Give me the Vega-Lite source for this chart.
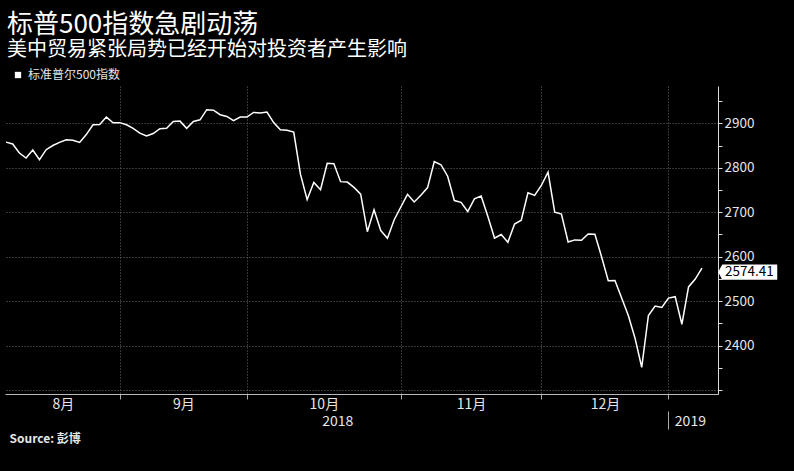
{
  "$schema": "https://vega.github.io/schema/vega-lite/v6.json",
  "width": 713,
  "height": 308,
  "autosize": {"type": "none"},
  "padding": {"left": 5, "top": 86, "right": 76, "bottom": 77},
  "background": "#000000",
  "config": {
    "view": {"stroke": null},
    "font": "Noto Sans CJK SC",
    "axis": {"labelFont": "Noto Sans CJK SC", "titleFont": "Noto Sans CJK SC"},
    "legend": {"labelFont": "Noto Sans CJK SC"}
  },
  "title": {
    "text": "标普500指数急剧动荡",
    "subtitle": "美中贸易紧张局势已经开始对投资者产生影响",
    "anchor": "start",
    "frame": "group",
    "offset": 9,
    "dx": 2,
    "color": "#ffffff",
    "subtitleColor": "#ffffff",
    "fontSize": 26,
    "subtitleFontSize": 20,
    "fontWeight": "normal",
    "subtitlePadding": 2,
    "font": "Noto Sans CJK SC",
    "subtitleFont": "Noto Sans CJK SC"
  },
  "data": {
    "values": [
      {"i": 0, "date": "2018-08-08", "close": 2857.70},
      {"i": 1, "date": "2018-08-09", "close": 2853.58},
      {"i": 2, "date": "2018-08-10", "close": 2833.28},
      {"i": 3, "date": "2018-08-13", "close": 2821.93},
      {"i": 4, "date": "2018-08-14", "close": 2839.96},
      {"i": 5, "date": "2018-08-15", "close": 2818.37},
      {"i": 6, "date": "2018-08-16", "close": 2840.69},
      {"i": 7, "date": "2018-08-17", "close": 2850.13},
      {"i": 8, "date": "2018-08-20", "close": 2857.05},
      {"i": 9, "date": "2018-08-21", "close": 2862.96},
      {"i": 10, "date": "2018-08-22", "close": 2861.82},
      {"i": 11, "date": "2018-08-23", "close": 2856.98},
      {"i": 12, "date": "2018-08-24", "close": 2874.69},
      {"i": 13, "date": "2018-08-27", "close": 2896.74},
      {"i": 14, "date": "2018-08-28", "close": 2897.52},
      {"i": 15, "date": "2018-08-29", "close": 2914.04},
      {"i": 16, "date": "2018-08-30", "close": 2901.13},
      {"i": 17, "date": "2018-08-31", "close": 2901.52},
      {"i": 18, "date": "2018-09-04", "close": 2896.72},
      {"i": 19, "date": "2018-09-05", "close": 2888.60},
      {"i": 20, "date": "2018-09-06", "close": 2878.05},
      {"i": 21, "date": "2018-09-07", "close": 2871.68},
      {"i": 22, "date": "2018-09-10", "close": 2877.13},
      {"i": 23, "date": "2018-09-11", "close": 2887.89},
      {"i": 24, "date": "2018-09-12", "close": 2888.92},
      {"i": 25, "date": "2018-09-13", "close": 2904.18},
      {"i": 26, "date": "2018-09-14", "close": 2904.98},
      {"i": 27, "date": "2018-09-17", "close": 2888.80},
      {"i": 28, "date": "2018-09-18", "close": 2904.31},
      {"i": 29, "date": "2018-09-19", "close": 2907.95},
      {"i": 30, "date": "2018-09-20", "close": 2930.75},
      {"i": 31, "date": "2018-09-21", "close": 2929.67},
      {"i": 32, "date": "2018-09-24", "close": 2919.37},
      {"i": 33, "date": "2018-09-25", "close": 2915.56},
      {"i": 34, "date": "2018-09-26", "close": 2905.97},
      {"i": 35, "date": "2018-09-27", "close": 2914.00},
      {"i": 36, "date": "2018-09-28", "close": 2913.98},
      {"i": 37, "date": "2018-10-01", "close": 2924.59},
      {"i": 38, "date": "2018-10-02", "close": 2923.43},
      {"i": 39, "date": "2018-10-03", "close": 2925.51},
      {"i": 40, "date": "2018-10-04", "close": 2901.61},
      {"i": 41, "date": "2018-10-05", "close": 2885.57},
      {"i": 42, "date": "2018-10-08", "close": 2884.43},
      {"i": 43, "date": "2018-10-09", "close": 2880.34},
      {"i": 44, "date": "2018-10-10", "close": 2785.68},
      {"i": 45, "date": "2018-10-11", "close": 2728.37},
      {"i": 46, "date": "2018-10-12", "close": 2767.13},
      {"i": 47, "date": "2018-10-15", "close": 2750.79},
      {"i": 48, "date": "2018-10-16", "close": 2809.92},
      {"i": 49, "date": "2018-10-17", "close": 2809.21},
      {"i": 50, "date": "2018-10-18", "close": 2768.78},
      {"i": 51, "date": "2018-10-19", "close": 2767.78},
      {"i": 52, "date": "2018-10-22", "close": 2755.88},
      {"i": 53, "date": "2018-10-23", "close": 2740.69},
      {"i": 54, "date": "2018-10-24", "close": 2656.10},
      {"i": 55, "date": "2018-10-25", "close": 2705.57},
      {"i": 56, "date": "2018-10-26", "close": 2658.69},
      {"i": 57, "date": "2018-10-29", "close": 2641.25},
      {"i": 58, "date": "2018-10-30", "close": 2682.63},
      {"i": 59, "date": "2018-10-31", "close": 2711.74},
      {"i": 60, "date": "2018-11-01", "close": 2740.37},
      {"i": 61, "date": "2018-11-02", "close": 2723.06},
      {"i": 62, "date": "2018-11-05", "close": 2738.31},
      {"i": 63, "date": "2018-11-06", "close": 2755.45},
      {"i": 64, "date": "2018-11-07", "close": 2813.89},
      {"i": 65, "date": "2018-11-08", "close": 2806.83},
      {"i": 66, "date": "2018-11-09", "close": 2781.01},
      {"i": 67, "date": "2018-11-12", "close": 2726.22},
      {"i": 68, "date": "2018-11-13", "close": 2722.18},
      {"i": 69, "date": "2018-11-14", "close": 2701.58},
      {"i": 70, "date": "2018-11-15", "close": 2730.20},
      {"i": 71, "date": "2018-11-16", "close": 2736.27},
      {"i": 72, "date": "2018-11-19", "close": 2690.73},
      {"i": 73, "date": "2018-11-20", "close": 2641.89},
      {"i": 74, "date": "2018-11-21", "close": 2649.93},
      {"i": 75, "date": "2018-11-23", "close": 2632.56},
      {"i": 76, "date": "2018-11-26", "close": 2673.45},
      {"i": 77, "date": "2018-11-27", "close": 2682.17},
      {"i": 78, "date": "2018-11-28", "close": 2743.79},
      {"i": 79, "date": "2018-11-29", "close": 2737.80},
      {"i": 80, "date": "2018-11-30", "close": 2760.17},
      {"i": 81, "date": "2018-12-03", "close": 2790.37},
      {"i": 82, "date": "2018-12-04", "close": 2700.06},
      {"i": 83, "date": "2018-12-06", "close": 2695.95},
      {"i": 84, "date": "2018-12-07", "close": 2633.08},
      {"i": 85, "date": "2018-12-10", "close": 2637.72},
      {"i": 86, "date": "2018-12-11", "close": 2636.78},
      {"i": 87, "date": "2018-12-12", "close": 2651.07},
      {"i": 88, "date": "2018-12-13", "close": 2650.54},
      {"i": 89, "date": "2018-12-14", "close": 2599.95},
      {"i": 90, "date": "2018-12-17", "close": 2545.94},
      {"i": 91, "date": "2018-12-18", "close": 2546.16},
      {"i": 92, "date": "2018-12-19", "close": 2506.96},
      {"i": 93, "date": "2018-12-20", "close": 2467.42},
      {"i": 94, "date": "2018-12-21", "close": 2416.62},
      {"i": 95, "date": "2018-12-24", "close": 2351.10},
      {"i": 96, "date": "2018-12-26", "close": 2467.70},
      {"i": 97, "date": "2018-12-27", "close": 2488.83},
      {"i": 98, "date": "2018-12-28", "close": 2485.74},
      {"i": 99, "date": "2018-12-31", "close": 2506.85},
      {"i": 100, "date": "2019-01-02", "close": 2510.03},
      {"i": 101, "date": "2019-01-03", "close": 2447.89},
      {"i": 102, "date": "2019-01-04", "close": 2531.94},
      {"i": 103, "date": "2019-01-07", "close": 2549.69},
      {"i": 104, "date": "2019-01-08", "close": 2574.41}
    ]
  },
  "resolve": {"axis": {"x": "independent", "y": "independent"}},
  "layer": [
    {
      "mark": {"type": "line", "stroke": "#ffffff", "strokeWidth": 1.5},
      "encoding": {
        "x": {
          "field": "i",
          "type": "quantitative",
          "scale": {"domain": [-0.15, 106.4], "nice": false, "zero": false},
          "axis": {
            "orient": "bottom",
            "values": [17, 36, 59, 80, 99],
            "grid": true,
            "gridColor": "#6a6a6a",
            "gridDash": [1, 2],
            "gridWidth": 1,
            "labels": false,
            "ticks": true,
            "tickSize": 5,
            "tickColor": "#aaaaaa",
            "domain": true,
            "domainColor": "#bbbbbb",
            "title": null
          }
        },
        "y": {
          "field": "close",
          "type": "quantitative",
          "scale": {"domain": [2291, 2984], "nice": false, "zero": false},
          "axis": {
            "orient": "right",
            "values": [2300, 2350, 2400, 2450, 2500, 2550, 2600, 2650, 2700, 2750, 2800, 2850, 2900, 2950],
            "labelExpr": "datum.value % 100 == 0 && datum.value >= 2400 ? format(datum.value, 'd') : ''",
            "grid": true,
            "gridColor": "#6a6a6a",
            "gridDash": [1, 2],
            "gridOpacity": {"condition": {"test": "datum.value % 100 == 0", "value": 1}, "value": 0},
            "tickSize": 4,
            "tickColor": "#dddddd",
            "domainColor": "#dddddd",
            "labelColor": "#e6e6e6",
            "labelFontSize": 13.5,
            "labelPadding": 2,
            "labelOverlap": false,
            "title": null
          }
        },
        "color": {
          "datum": "标准普尔500指数",
          "scale": {"range": ["#ffffff"]},
          "legend": {
            "orient": "none",
            "legendX": 7,
            "legendY": -17,
            "title": null,
            "padding": 0,
            "symbolType": "square",
            "symbolSize": 40,
            "symbolFillColor": "#ffffff",
            "symbolStrokeColor": "#ffffff",
            "symbolStrokeWidth": 0,
            "labelColor": "#e6e6e6",
            "labelFontSize": 12,
            "labelOffset": 4
          }
        }
      }
    },
    {
      "transform": [{"filter": "datum.i == 104"}],
      "mark": {
        "type": "point",
        "shape": "M0.4075,0.1 L0.5075,-0.09 L1.8825,-0.09 L1.8825,0.29 L0.5075,0.29 Z",
        "size": 6400,
        "filled": true,
        "fill": "#ffffff",
        "opacity": 1,
        "strokeWidth": 0
      },
      "encoding": {
        "x": {
          "field": "i",
          "type": "quantitative",
          "axis": {
            "orient": "bottom",
            "values": [8.5, 26.5, 47.5, 69.5, 89.5],
            "labelExpr": "datum.value < 10 ? '8月' : datum.value < 30 ? '9月' : datum.value < 50 ? '10月' : datum.value < 70 ? '11月' : '12月'",
            "ticks": false,
            "domain": false,
            "grid": false,
            "labelPadding": 3,
            "labelFontSize": 14,
            "labelColor": "#e6e6e6",
            "labelOverlap": false,
            "labelFlush": false,
            "title": null
          }
        },
        "y": {"field": "close", "type": "quantitative", "axis": null}
      }
    },
    {
      "transform": [{"filter": "datum.i == 104"}],
      "mark": {"type": "text", "align": "left", "baseline": "middle", "dx": 23, "dy": 4, "fontSize": 13.5, "color": "#000000"},
      "encoding": {
        "x": {
          "field": "i",
          "type": "quantitative",
          "axis": {
            "orient": "bottom",
            "offset": 17,
            "values": [49.5, 99, 102.2],
            "labelExpr": "datum.value < 60 ? '2018' : datum.value > 100 ? '2019' : ''",
            "ticks": true,
            "tickSize": 18,
            "tickColor": "#aaaaaa",
            "tickOpacity": {"condition": {"test": "datum.value == 99", "value": 1}, "value": 0},
            "domain": false,
            "grid": false,
            "labelPadding": -15,
            "labelFontSize": 14,
            "labelColor": "#e6e6e6",
            "labelOverlap": false,
            "labelFlush": false,
            "title": "Source: 彭博",
            "titleX": 4,
            "titleY": 27,
            "titleAlign": "left",
            "titleBaseline": "middle",
            "titleFontSize": 12,
            "titleFontWeight": "bold",
            "titleColor": "#e6e6e6"
          }
        },
        "y": {"field": "close", "type": "quantitative", "axis": null},
        "text": {"field": "close", "type": "quantitative", "format": ".2f"}
      }
    }
  ]
}
